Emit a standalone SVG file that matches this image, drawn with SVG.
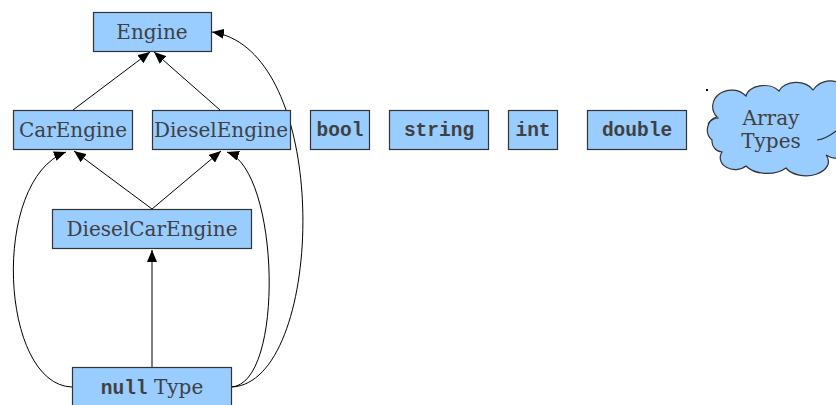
<svg xmlns="http://www.w3.org/2000/svg" width="836" height="405" viewBox="0 0 836 405">
  <style>
    .box { fill: #99ccff; stroke: #333; stroke-width: 1.2; }
    .lbl { font-family: "DejaVu Serif", serif; font-size: 20px; fill: #404040; text-anchor: middle; }
    .code { font-family: "Liberation Mono", "Courier New", monospace; font-weight: bold; font-size: 19.5px; fill: #404040; }
    .edge { fill: none; stroke: #000; stroke-width: 1; marker-end: url(#arrow); }
  </style>
  <defs>
    <marker id="arrow" markerUnits="userSpaceOnUse" markerWidth="12" markerHeight="10" refX="12" refY="5" orient="auto">
      <path d="M0,0 L12,5 L0,10 Z" fill="#000"/>
    </marker>
  </defs>
  <rect width="836" height="405" fill="#fff"/>

  <g id="connectors">
    <line class="edge" x1="73" y1="110" x2="150" y2="52"/>
    <line class="edge" x1="220" y1="110" x2="154" y2="52"/>
    <line class="edge" x1="152" y1="209" x2="74" y2="151"/>
    <line class="edge" x1="152" y1="209" x2="221" y2="151"/>
    <line class="edge" x1="152" y1="368" x2="152" y2="250" style="stroke:#555;stroke-width:1.5"/>
    <path class="edge" d="M72,387 C0,385 -10,180 66,152"/>
    <path class="edge" d="M231,387 C285,385 280,170 227,152"/>
    <path class="edge" d="M231,387 C325,385 335,50 212,32"/>
  </g>

  <g id="engine">
    <rect class="box" x="93.5" y="12.5" width="118" height="39"/>
    <text class="lbl" x="152" y="38.5">Engine</text>
  </g>
  <g id="car-engine">
    <rect class="box" x="13.5" y="110.5" width="119" height="39"/>
    <text class="lbl" x="73" y="137">CarEngine</text>
  </g>
  <g id="diesel-engine">
    <rect class="box" x="152.5" y="110.5" width="138" height="39"/>
    <text class="lbl" x="221" y="137">DieselEngine</text>
  </g>
  <g id="diesel-car-engine">
    <rect class="box" x="52.5" y="209.5" width="199" height="39"/>
    <text class="lbl" x="152" y="236">DieselCarEngine</text>
  </g>
  <g id="null-type">
    <rect class="box" x="72.5" y="367.5" width="159" height="45"/>
    <text class="lbl" x="152" y="394"><tspan class="code">null</tspan> Type</text>
  </g>
  <g id="bool">
    <rect class="box" x="310.5" y="110.5" width="59" height="39"/>
    <text class="code" x="340" y="136" text-anchor="middle">bool</text>
  </g>
  <g id="string">
    <rect class="box" x="389.5" y="110.5" width="99" height="39"/>
    <text class="code" x="439" y="136" text-anchor="middle">string</text>
  </g>
  <g id="int">
    <rect class="box" x="508.5" y="110.5" width="49" height="39"/>
    <text class="code" x="533" y="136" text-anchor="middle">int</text>
  </g>
  <g id="double">
    <rect class="box" x="587.5" y="110.5" width="99" height="39"/>
    <text class="code" x="637" y="136" text-anchor="middle">double</text>
  </g>
  <g id="array-types">
    <path class="box" d="M712,140 A12,13 0 0 1 717,117 A16,14 0 0 1 746,96 A18,12 0 0 1 779,91 A18,12 0 0 1 813,90 A18,20 0 0 1 848,122 A16,16 0 0 1 826,155 A22,14 0 0 1 786,168 A24,14 0 0 1 746,166 A15,12 0 0 1 722,152 A11,11 0 0 1 712,140 Z"/>
    <path d="M708,124 Q712,118 719,118 M817,140 Q826,139 836,131" fill="none" stroke="#333" stroke-width="1.2"/>
    <text class="lbl" x="771" y="125">Array</text>
    <text class="lbl" x="771" y="148">Types</text>
  </g>
  <rect x="706" y="89" width="2" height="2" fill="#000"/>
</svg>
